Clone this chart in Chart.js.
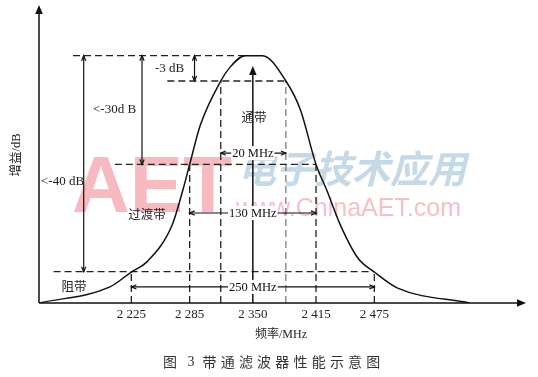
<!DOCTYPE html>
<html>
<head>
<meta charset="utf-8">
<script src="https://cdn.jsdelivr.net/npm/chart.js@4"></script>
<style>
  body { margin: 0; background: #fff; }
  canvas { display: block; }
</style>
</head>
<body>
<canvas id="grafico" width="538" height="377"></canvas>
<script>
// Curva de respuesta del filtro (frecuencia MHz, nivel relativo 0-100)
const curvaFrec = [2130, 2203, 2225, 2241, 2267, 2278, 2285, 2296, 2317, 2326, 2342,
                   2360, 2384, 2399, 2415, 2426, 2440, 2458, 2475, 2499, 2573];
const curvaNivel = [0, 5.4, 10.4, 13.8, 26.2, 37.9, 46.5, 59.7, 74.5, 78.9, 83,
                    83, 74.5, 64.8, 46.5, 37.9, 26.2, 15.1, 10.4, 5.0, 0];

// Marcas del eje de frecuencia
const ticksFrec = [2225, 2285, 2350, 2415, 2475];
const ticksTexto = ['2 225', '2 285', '2 350', '2 415', '2 475'];

// Niveles horizontales: pico, -3 dB, -30 dB, -40 dB
const niveles = [83, 74.5, 46.5, 10.5];
const nivelDesde = [2165, 2262, 2208, 2145];
const nivelHasta = [2342, 2384, 2415, 2475];

// Verticales discontinuas en los bordes de banda
const bordesFrec = [2225, 2285, 2317, 2384, 2415, 2475];
const bordesTope = [10.5, 46.5, 74.5, 74.5, 46.5, 10.5];

// Flechas de atenuacion
const atenFrec = [2176, 2236, 2290];
const atenFin = [10.5, 46.5, 74.5];
const atenTexto = ['<-40 dB', '<-30d B', '-3 dB'];

// Anchos de banda
const anchoTexto = ['20 MHz', '130 MHz', '250 MHz'];
const anchoDesde = [2317, 2285, 2225];
const anchoHasta = [2384, 2415, 2475];
const anchoNivel = [50.3, 30.2, 5.4];

const frecCentral = 2350;
const nivelFlechaCentral = 79.5;
const bandasTexto = ['通带', '过渡带', '阻带'];

const fuenteLat = '"Liberation Serif", "Noto Sans CJK SC", serif';

function punta(ctx, x, y, ang, tam, llena) {
    ctx.save();
    ctx.translate(x, y);
    ctx.rotate(ang);
    ctx.beginPath();
    ctx.moveTo(-tam, -tam * 0.42);
    ctx.lineTo(0, 0);
    ctx.lineTo(-tam, tam * 0.42);
    if (llena) {
        ctx.closePath();
        ctx.fill();
    } else {
        ctx.stroke();
    }
    ctx.restore();
}

const esquema = {
    id: 'esquema',
    beforeDatasetsDraw(chart) {
        // marca de agua
        const ctx = chart.ctx;
        ctx.save();
        ctx.textBaseline = 'alphabetic';
        ctx.textAlign = 'left';
        ctx.fillStyle = '#f8bac1';
        ctx.font = 'bold 80px "Liberation Sans", Arial, sans-serif';
        ctx.fillText('AET', 72, 212);
        ctx.font = '25px "Liberation Sans", Arial, sans-serif';
        ctx.fillStyle = '#f7c0c6';
        ctx.fillText('www.ChinaAET.com', 236, 216);
        ctx.fillStyle = '#c6d9e7';
        ctx.font = 'italic bold 38px "Noto Sans CJK SC", sans-serif';
        ctx.textBaseline = 'middle';
        ctx.fillText('电子技术应用', 238, 169);
        ctx.restore();
    },
    afterDatasetsDraw(chart) {
        const ctx = chart.ctx;
        const xs = chart.scales.x;
        const ys = chart.scales.y;
        const area = chart.chartArea;
        ctx.save();
        ctx.strokeStyle = '#111';
        ctx.fillStyle = '#111';

        // ejes con flecha
        ctx.lineWidth = 1.5;
        ctx.beginPath();
        ctx.moveTo(area.left, area.bottom);
        ctx.lineTo(area.left, area.top + 4);
        ctx.moveTo(area.left, area.bottom);
        ctx.lineTo(area.right - 4, area.bottom);
        ctx.stroke();
        punta(ctx, area.left, area.top, -Math.PI / 2, 9, true);
        punta(ctx, area.right + 1, area.bottom, 0, 9, true);

        // flecha central (banda de paso)
        const xc = xs.getPixelForValue(frecCentral);
        const yTip = ys.getPixelForValue(nivelFlechaCentral);
        ctx.beginPath();
        ctx.moveTo(xc, area.bottom);
        ctx.lineTo(xc, yTip + 5);
        ctx.stroke();
        punta(ctx, xc, yTip, -Math.PI / 2, 9, true);

        // flechas de atenuacion
        ctx.lineWidth = 1.2;
        const yPico = ys.getPixelForValue(niveles[0]);
        atenFrec.forEach((f, i) => {
            const x = xs.getPixelForValue(f);
            const y2 = ys.getPixelForValue(atenFin[i]);
            ctx.beginPath();
            ctx.moveTo(x, yPico);
            ctx.lineTo(x, y2);
            ctx.stroke();
            punta(ctx, x, yPico, -Math.PI / 2, 5, false);
            punta(ctx, x, y2, Math.PI / 2, 5, false);
        });

        // anchos de banda
        ctx.font = '12.5px ' + fuenteLat;
        ctx.textBaseline = 'middle';
        ctx.textAlign = 'center';
        anchoTexto.forEach((t, i) => {
            const y = ys.getPixelForValue(anchoNivel[i]);
            const x1 = xs.getPixelForValue(anchoDesde[i]);
            const x2 = xs.getPixelForValue(anchoHasta[i]);
            const w = ctx.measureText(t).width;
            const l = xc - w / 2 - 1;
            const r = xc + w / 2 + 1;
            ctx.fillStyle = '#fff';
            ctx.fillRect(l, y - 7, r - l, 14);
            ctx.fillStyle = '#111';
            ctx.fillText(t, xc, y + 1);
            ctx.beginPath();
            ctx.moveTo(l, y);
            ctx.lineTo(x1, y);
            ctx.moveTo(r, y);
            ctx.lineTo(x2, y);
            ctx.stroke();
            punta(ctx, x1, y, Math.PI, 5, false);
            punta(ctx, x2, y, 0, 5, false);
        });

        // textos de atenuacion
        ctx.fillStyle = '#222';
        ctx.textAlign = 'left';
        ctx.font = '13px ' + fuenteLat;
        ctx.fillText(atenTexto[0], 41, 182);
        ctx.fillText(atenTexto[1], 93, 110);
        ctx.fillText(atenTexto[2], 155, 69);

        // nombres de banda
        ctx.textAlign = 'center';
        ctx.font = '12.5px "Noto Sans CJK SC", sans-serif';
        ctx.fillText(bandasTexto[0], 254, 117);
        ctx.fillText(bandasTexto[1], 147, 214);
        ctx.fillText(bandasTexto[2], 74, 286);

        // etiquetas del eje x
        ctx.font = '13px ' + fuenteLat;
        ticksFrec.forEach((f, i) => {
            ctx.fillText(ticksTexto[i], xs.getPixelForValue(f), 315);
        });
        ctx.font = '12px ' + fuenteLat;
        ctx.fillText('频率/MHz', 281, 335);

        // titulo del eje y
        ctx.save();
        ctx.translate(17, 155);
        ctx.rotate(-Math.PI / 2);
        ctx.font = '12.5px ' + fuenteLat;
        ctx.fillText('增益/dB', 0, 0);
        ctx.restore();

        // pie de figura
        ctx.fillStyle = '#333';
        ctx.font = '14px "Noto Sans CJK SC", sans-serif';
        ctx.fillText('图', 170, 362);
        ctx.font = '14px ' + fuenteLat;
        ctx.fillText('3', 191, 362);
        ctx.font = '14px "Noto Sans CJK SC", sans-serif';
        Array.from('带通滤波器性能示意图').forEach((c, i) => {
            ctx.fillText(c, 209.5 + i * 18.2, 362);
        });
        ctx.restore();
    }
};

const guiones = {
    borderColor: '#222',
    borderWidth: 1.3,
    borderDash: [7, 4],
    pointRadius: 0,
    fill: false
};

const datasets = [{
    data: curvaFrec.map((f, i) => ({ x: f, y: curvaNivel[i] })),
    borderColor: '#111',
    borderWidth: 1.5,
    cubicInterpolationMode: 'monotone',
    pointRadius: 0,
    fill: false
}];
niveles.forEach((n, i) => {
    datasets.push({ ...guiones, data: [{ x: nivelDesde[i], y: n }, { x: nivelHasta[i], y: n }] });
});
bordesFrec.forEach((f, i) => {
    const extra = f === 2384 ? { borderWidth: 1, borderColor: '#555' } : {};
    datasets.push({ ...guiones, ...extra, data: [{ x: f, y: 0 }, { x: f, y: bordesTope[i] }] });
});

new Chart(document.getElementById('grafico'), {
    type: 'line',
    data: { datasets },
    options: {
        responsive: false,
        animation: false,
        devicePixelRatio: 1,
        layout: { padding: { left: 39, right: 13, top: 5, bottom: 74 } },
        plugins: { legend: { display: false }, tooltip: { enabled: false } },
        scales: {
            x: { type: 'linear', min: 2130, max: 2630, display: false },
            y: { min: 0, max: 100, display: false }
        }
    },
    plugins: [esquema]
});
</script>
</body>
</html>
